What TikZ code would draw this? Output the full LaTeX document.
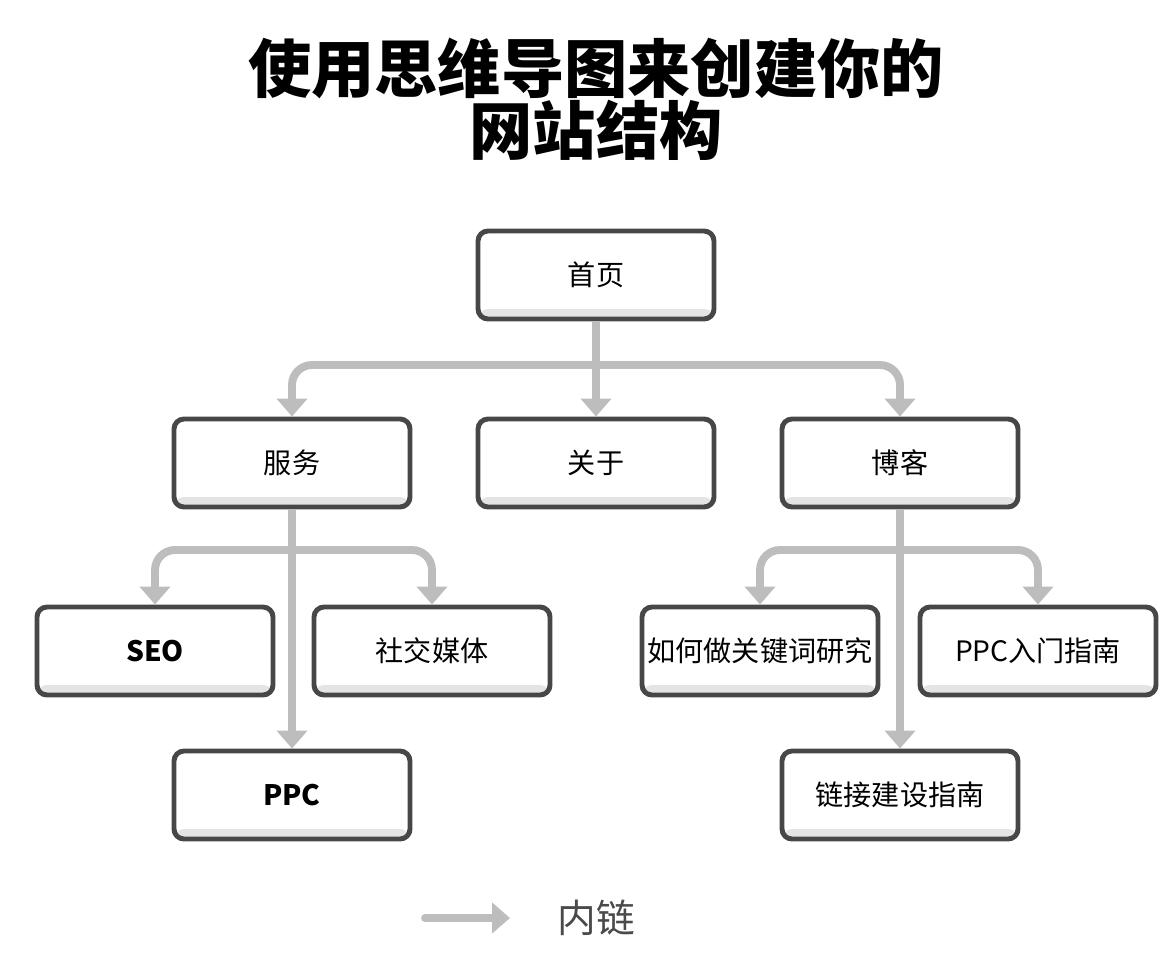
\documentclass[tikz,border=0pt]{standalone}
\usepackage{fontspec}
\setmainfont{Noto Sans CJK SC}
\usetikzlibrary{arrows.meta, positioning}
\definecolor{boxline}{HTML}{474747}
\definecolor{linkgray}{HTML}{BDBDBD}
\definecolor{boxshade}{HTML}{E4E4E4}
\definecolor{legendtext}{HTML}{4A4A4A}

\begin{document}
\begin{tikzpicture}[>={Triangle[width=0.6cm,length=0.36cm]}, node distance=3.76cm]
	\tikzstyle{page}=[draw=boxline, line width=2.8pt, rounded corners=0.2cm, fill=white, inner sep=1pt,
		minimum width=4.72cm, minimum height=1.76cm, font=\fontsize{16}{19}\selectfont,
		path picture={\fill[boxshade] (path picture bounding box.south west) rectangle ([yshift=0.2cm]path picture bounding box.south east);}]
	\tikzstyle{link}=[->, draw=linkgray, line width=4.5pt, rounded corners=0.4cm]
	
	\useasboundingbox (0,0) rectangle (23.48,-19.2);
	
	\node[align=center, font=\fontsize{36}{35.3}\selectfont\bfseries] (title) at (11.92,-1.98) {使用思维导图来创建你的\\网站结构};
	
	\node[page] (home) at (11.92,-5.5) {首页};
	\node[page] (about)    [below of=home]                      {关于};
	\node[page] (service)  [left of=about, node distance=6.08cm] {服务};
	\node[page] (blog)     [right of=about, node distance=6.08cm] {博客};
	\node[page] (seo)      [below of=service, xshift=-2.74cm]   {\bfseries SEO};
	\node[page] (social)   [below of=service, xshift=2.8cm]     {社交媒体};
	\node[page] (ppc)      [below of=service, node distance=6.64cm] {\bfseries PPC};
	\node[page] (keyword)  [below of=blog, xshift=-2.8cm]       {如何做关键词研究};
	\node[page] (ppcguide) [below of=blog, xshift=2.76cm]       {PPC入门指南};
	\node[page] (linkguide) [below of=blog, node distance=6.64cm] {链接建设指南};
	
	\coordinate (homebus)    at ([yshift=-1.8cm]home.center);
	\coordinate (servicebus) at ([yshift=-1.74cm]service.center);
	\coordinate (blogbus)    at ([yshift=-1.74cm]blog.center);
	
	\draw[link] (home) -- (about);
	\draw[link] (homebus) -| (service.north);
	\draw[link] (homebus) -| (blog.north);
	\draw[link] (service) -- (ppc);
	\draw[link] (servicebus) -| (seo.north);
	\draw[link] (servicebus) -| (social.north);
	\draw[link] (blog) -- (linkguide);
	\draw[link] (blogbus) -| (keyword.north);
	\draw[link] (blogbus) -| (ppcguide.north);
	
	% legend
	\coordinate (legstart) at (8.5,-18.36);
	\coordinate (legend) at (10.2,-18.36);
	\node[text=legendtext, font=\fontsize{22}{26}\selectfont] (legtext) at (11.92,-18.36) {内链};
	\draw[link, line cap=round] (legstart) -- (legend);
\end{tikzpicture}
\end{document}
